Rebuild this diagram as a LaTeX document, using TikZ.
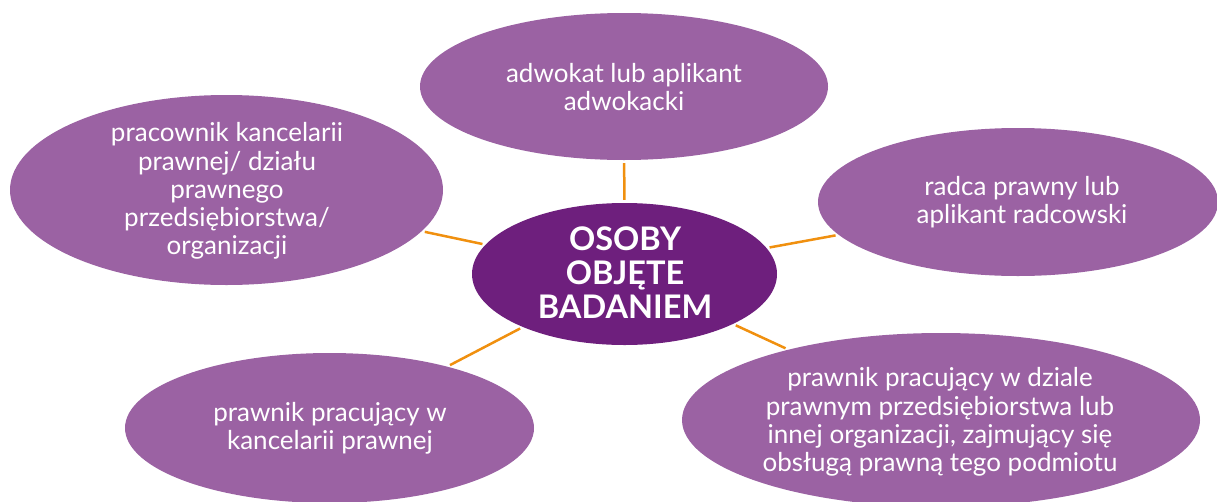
\documentclass[tikz,border=0pt]{standalone}
\usepackage{fontspec}
\setmainfont{Lato}
\usetikzlibrary{shapes.geometric}
\definecolor{lightpurple}{HTML}{9B62A3}
\definecolor{darkpurple}{HTML}{6E1F7D}
\definecolor{linkorange}{HTML}{F0900F}
\begin{document}
\begin{tikzpicture}[x=1pt,y=-1pt,
  bubble/.style={ellipse, fill=lightpurple, draw=none, inner sep=0pt},
  hub/.style={ellipse, fill=darkpurple, draw=none, inner sep=0pt},
  bubbletext/.style={text=white, align=center, inner sep=0pt, font=\fontsize{26}{28.2}\selectfont},
  hubtext/.style={text=white, align=center, inner sep=0pt, font=\fontsize{32.5}{34}\selectfont\bfseries},
  link/.style={draw=linkorange, line width=2.5pt, shorten >=3pt, shorten <=3pt}]
\useasboundingbox (0,0) rectangle (1217,501);
% ellipses
\node[bubble, minimum width=408pt, minimum height=147pt] (top) at (624,86.5) {};
\node[bubble, minimum width=433pt, minimum height=190pt] (left) at (226.5,190) {};
\node[bubble, minimum width=400pt, minimum height=148pt] (right) at (1018,202) {};
\node[bubble, minimum width=409pt, minimum height=150pt] (bl) at (329.5,428) {};
\node[bubble, minimum width=518pt, minimum height=174pt] (br) at (941,420) {};
\node[hub, minimum width=305pt, minimum height=142pt] (hub) at (624.5,274) {};
% connectors
\draw[link] (top) -- (hub);
\draw[link] (left) -- (hub);
\draw[link] (right) -- (hub);
\draw[link] (bl) -- (hub);
\draw[link] (br) -- (hub);
% texts
\node[bubbletext] (ttop) at (624,87) {adwokat lub aplikant\\adwokacki};
\node[bubbletext] (tleft) at (227,191) {pracownik kancelarii\\prawnej/ działu\\prawnego\\przedsiębiorstwa/\\organizacji};
\node[bubbletext] (tright) at (1022,202) {radca prawny lub\\aplikant radcowski};
\node[bubbletext] (tbl) at (330,428) {prawnik pracujący w\\kancelarii prawnej};
\node[bubbletext] (tbr) at (940,422) {prawnik pracujący w dziale\\prawnym przedsiębiorstwa lub\\innej organizacji, zajmujący się\\obsługą prawną tego podmiotu};
\node[hubtext] (thub) at (625,273) {OSOBY\\OBJĘTE\\BADANIEM};
\end{tikzpicture}
\end{document}
